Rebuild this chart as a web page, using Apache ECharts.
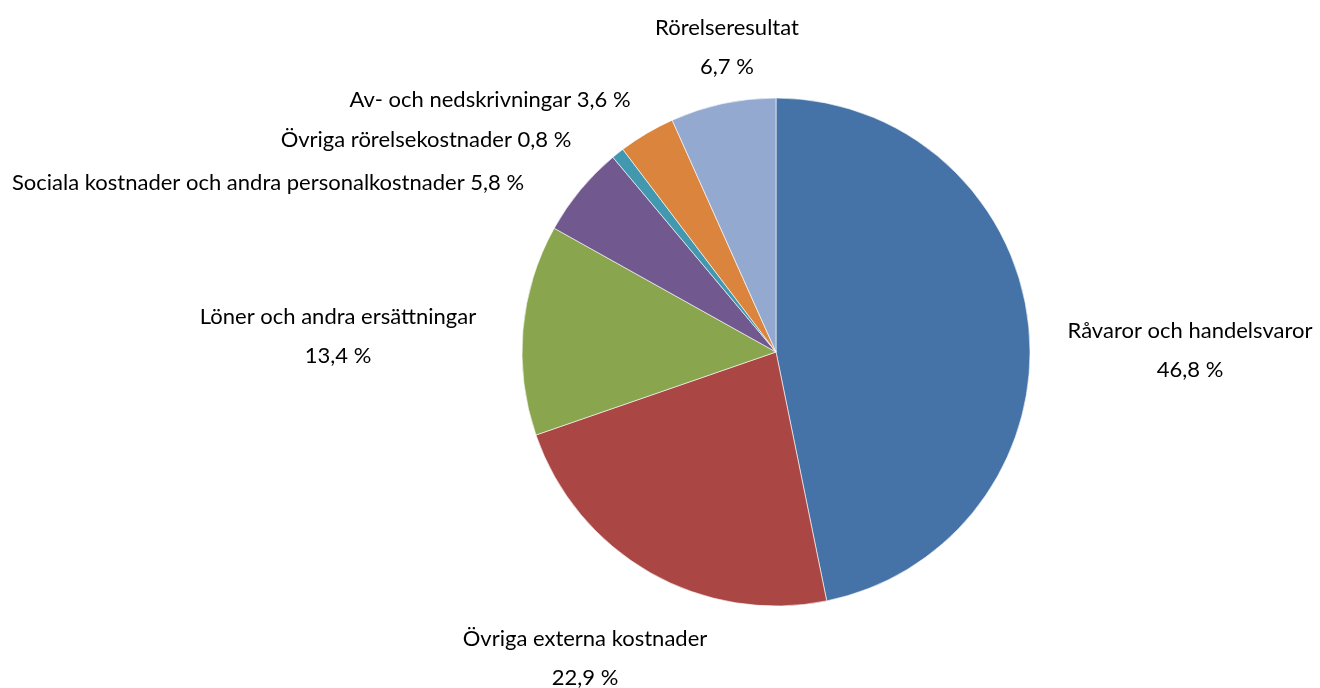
<!DOCTYPE html>
<html>
<head>
<meta charset="utf-8">
<script src="https://cdn.jsdelivr.net/npm/echarts@6/dist/echarts.min.js"></script>
<style>
  html, body { margin: 0; padding: 0; background: #fff; }
  #chart { width: 1320px; height: 688px; }
</style>
</head>
<body>
<div id="chart"></div>
<script>
const categories = [
  'Råvaror och handelsvaror',
  'Övriga externa kostnader',
  'Löner och andra ersättningar',
  'Sociala kostnader och andra personalkostnader',
  'Övriga rörelsekostnader',
  'Av- och nedskrivningar',
  'Rörelseresultat'
]
const values = [46.8, 22.9, 13.4, 5.8, 0.8, 3.6, 6.7]
const colors = ['#4572A7', '#AA4643', '#89A54E', '#71588F', '#4198AF', '#DB843D', '#93A9CF']
// labels shown on one line (name and value side by side)
const oneLine = [false, false, false, true, true, true, false]

const cx = 776, cy = 352
// label centre offsets from the pie centre, like the hand-placed labels of the original
const labelOffsets = [[414, -2], [-191, 306], [-438, -16], [-508, -169], [-350, -212], [-286, -252], [-49, -305]]

const chart = echarts.init(document.getElementById('chart'))
chart.setOption({
  animation: false,
  series: [{
    type: 'pie',
    center: [cx, cy],
    radius: 254,
    startAngle: 90,
    clockwise: true,
    data: categories.map((name, i) => ({
      name,
      value: values[i],
      itemStyle: { color: colors[i] }
    })),
    itemStyle: { borderColor: '#fff', borderWidth: 0.6 },
    label: {
      show: true,
      position: 'outside',
      fontFamily: 'Lato',
      fontSize: 22,
      color: '#000',
      lineHeight: 39,
      overflow: 'none',
      formatter: p => {
        const v = p.value.toFixed(1).replace('.', ',') + ' %'
        return oneLine[p.dataIndex] ? p.name + ' ' + v : p.name + '\n' + v
      }
    },
    labelLine: { show: false },
    labelLayout: p => ({
      x: cx + labelOffsets[p.dataIndex][0],
      y: cy + labelOffsets[p.dataIndex][1],
      align: 'center',
      verticalAlign: 'middle',
      width: 600
    })
  }]
})
</script>
</body>
</html>
